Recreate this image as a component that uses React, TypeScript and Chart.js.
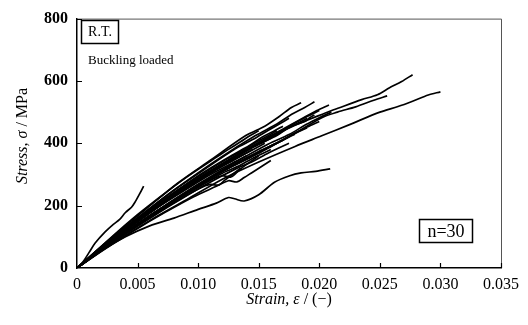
import React, { useEffect, useRef } from "react";
import { Chart, registerables } from "chart.js";

Chart.register(...registerables);

// ---- axis ticks ----
const xTicks = [0, 0.005, 0.01, 0.015, 0.02, 0.025, 0.03, 0.035];
const yTicks = [0, 200, 400, 600, 800];

// ---- curves: [strain, stress MPa] ----
const curveEarly = [[0, 0], [0.0005, 20], [0.001, 50], [0.0015, 80], [0.0023, 115], [0.003, 140], [0.0035, 155], [0.004, 178], [0.0045, 195], [0.0048, 212], [0.0052, 240], [0.0055, 263]];
const curveLow = [[0, 0], [0.002, 55], [0.004, 100], [0.006, 135], [0.008, 160], [0.01, 188], [0.0115, 208], [0.0125, 226], [0.013, 222], [0.0138, 215], [0.015, 235], [0.0163, 275], [0.0175, 295], [0.0185, 305], [0.0197, 310], [0.0209, 318]];
const curveLong1 = [[0, 0], [0.003, 92], [0.006, 180], [0.009, 262], [0.012, 335], [0.015, 400], [0.018, 458], [0.0205, 497], [0.0216, 513], [0.0235, 540], [0.0248, 556], [0.0258, 578], [0.0268, 598], [0.0277, 620]];
const curveLong2 = [[0, 0], [0.003, 85], [0.006, 165], [0.009, 240], [0.012, 310], [0.015, 370], [0.018, 432], [0.0202, 482], [0.0215, 500], [0.023, 517], [0.0245, 538], [0.0256, 552]];
const curveLong3 = [[0, 0], [0.003, 80], [0.006, 152], [0.009, 218], [0.012, 285], [0.015, 340], [0.018, 390], [0.0202, 424], [0.0225, 460], [0.025, 500], [0.0265, 518], [0.0277, 535], [0.029, 555], [0.03, 565]];
const c01 = [[0, 0], [0.0028, 96], [0.0056, 186], [0.0083, 272], [0.0111, 348], [0.0139, 424], [0.0155, 455], [0.0167, 486], [0.0177, 515], [0.0185, 530]];
const c02 = [[0, 0], [0.0029, 97], [0.0059, 188], [0.0088, 272], [0.0118, 353], [0.0147, 424], [0.0165, 462], [0.0176, 490], [0.0188, 515], [0.0196, 533]];
const c03 = [[0, 0], [0.0031, 95], [0.0062, 184], [0.0094, 267], [0.0125, 346], [0.0156, 416], [0.0172, 450], [0.0187, 482], [0.0198, 505], [0.0208, 523]];
const c04 = [[0, 0], [0.0032, 91], [0.0063, 176], [0.0095, 257], [0.0126, 329], [0.0158, 398], [0.0175, 428], [0.0189, 460], [0.02, 482], [0.021, 500]];
const c05 = [[0, 0], [0.0029, 89], [0.0059, 173], [0.0088, 252], [0.0118, 323], [0.0147, 392], [0.0165, 425], [0.0176, 453], [0.0188, 470], [0.0192, 482], [0.0196, 491]];
const c06 = [[0, 0], [0.003, 85], [0.006, 166], [0.009, 240], [0.012, 311], [0.015, 374], [0.0165, 400], [0.018, 433], [0.019, 452], [0.02, 470]];
const c07 = [[0, 0], [0.0029, 82], [0.0057, 159], [0.0086, 231], [0.0114, 296], [0.0143, 359], [0.0158, 385], [0.0171, 414], [0.018, 432], [0.019, 450]];
const c08 = [[0, 0], [0.0026, 87], [0.0053, 169], [0.0079, 247], [0.0105, 316], [0.0131, 383], [0.0145, 412], [0.0158, 442], [0.0167, 462], [0.0175, 480]];
const c09 = [[0, 0], [0.0026, 83], [0.0051, 160], [0.0077, 233], [0.0102, 301], [0.0128, 362], [0.0142, 392], [0.0153, 420], [0.0162, 438], [0.017, 455]];
const c10 = [[0, 0], [0.0025, 80], [0.005, 155], [0.0074, 226], [0.0099, 290], [0.0124, 350], [0.0136, 376], [0.0149, 406], [0.0165, 440]];
const c11 = [[0, 0], [0.0027, 78], [0.0054, 152], [0.0081, 220], [0.0108, 285], [0.0135, 342], [0.015, 368], [0.0162, 396], [0.0172, 414], [0.018, 430]];
const c12 = [[0, 0], [0.0024, 76], [0.0048, 148], [0.0072, 214], [0.0096, 278], [0.012, 334], [0.0132, 360], [0.0144, 387], [0.016, 420]];
const c13 = [[0, 0], [0.0023, 73], [0.0047, 141], [0.007, 205], [0.0093, 265], [0.0116, 318], [0.0128, 344], [0.014, 369], [0.0155, 400]];
const c14 = [[0, 0], [0.0023, 80], [0.0045, 155], [0.0068, 226], [0.009, 290], [0.0113, 350], [0.0124, 378], [0.0135, 405], [0.0143, 425], [0.015, 440]];
const c15 = [[0, 0], [0.0026, 75], [0.0051, 145], [0.0077, 210], [0.0102, 272], [0.0128, 326], [0.0142, 352], [0.0153, 378], [0.017, 410]];
const c16 = [[0, 0], [0.0022, 69], [0.0044, 134], [0.0065, 195], [0.0087, 251], [0.0109, 303], [0.0131, 350], [0.0145, 380]];
const c17 = [[0, 0], [0.0021, 65], [0.0042, 127], [0.0063, 185], [0.0084, 237], [0.0105, 288], [0.0126, 332], [0.014, 360]];
const c18 = [[0, 0], [0.0024, 69], [0.0048, 134], [0.0072, 195], [0.0096, 250], [0.012, 304], [0.0135, 330], [0.0144, 350], [0.016, 380]];
const c19 = [[0, 0], [0.002, 64], [0.0039, 123], [0.0059, 179], [0.0078, 232], [0.0098, 279], [0.0117, 323], [0.013, 350]];
const c20 = [[0, 0], [0.0023, 65], [0.0045, 127], [0.0068, 184], [0.009, 238], [0.0113, 287], [0.012, 296], [0.0127, 292], [0.0135, 318], [0.015, 360]];
const c21 = [[0, 0], [0.002, 58], [0.0041, 113], [0.0061, 164], [0.0081, 212], [0.0101, 255], [0.011, 268], [0.0117, 266], [0.0122, 282], [0.0135, 320]];
const c22 = [[0, 0], [0.0029, 87], [0.0057, 170], [0.0086, 246], [0.0114, 318], [0.0143, 382], [0.0157, 410], [0.0171, 442], [0.018, 460], [0.019, 480]];
const c23 = [[0, 0], [0.0026, 73], [0.0053, 141], [0.0079, 205], [0.0105, 265], [0.0131, 318], [0.0145, 342], [0.0158, 369], [0.0175, 400]];
const c24 = [[0, 0], [0.0024, 63], [0.0048, 122], [0.0072, 177], [0.0096, 228], [0.0115, 262], [0.0125, 280], [0.0132, 276], [0.0138, 290], [0.0144, 305], [0.016, 345]];
const c25 = [[0, 0], [0.003, 91], [0.006, 178], [0.009, 260], [0.012, 333], [0.015, 401], [0.0165, 432], [0.018, 465], [0.019, 486], [0.02, 505]];

const curves = [
  curveEarly, curveLow, curveLong1, curveLong2, curveLong3,
  c01, c02, c03, c04, c05, c06, c07, c08, c09, c10,
  c11, c12, c13, c14, c15, c16, c17, c18, c19, c20,
  c21, c22, c23, c24, c25,
];

// ---- texts ----
const xTitleParts = [
  { text: "Strain, ε", italic: true },
  { text: " / (−)", italic: false },
];
const yTitleParts = [
  { text: "Stress, σ", italic: true },
  { text: " / MPa", italic: false },
];
const labelRT = "R.T.";
const labelLoad = "Buckling loaded";
const labelN = "n=30";

const SERIF = "'Liberation Serif', 'DejaVu Serif', serif";

function drawParts(ctx: CanvasRenderingContext2D, parts: { text: string; italic: boolean }[], size: number) {
  const fonts = parts.map((p) => `${p.italic ? "italic " : ""}${size}px ${SERIF}`);
  let total = 0;
  const widths = parts.map((p, i) => {
    ctx.font = fonts[i];
    const w = ctx.measureText(p.text).width;
    total += w;
    return w;
  });
  let x = -total / 2;
  ctx.textBaseline = "middle";
  ctx.textAlign = "left";
  parts.forEach((p, i) => {
    ctx.font = fonts[i];
    ctx.fillText(p.text, x, 0);
    x += widths[i];
  });
}

const decorPlugin = {
  id: "decor",
  afterDraw(chart: any) {
    const ctx: CanvasRenderingContext2D = chart.ctx;
    const { left, right, top, bottom } = chart.chartArea;
    const xs = chart.scales.x;
    const ys = chart.scales.y;
    ctx.save();
    // frame top & right
    ctx.strokeStyle = "#555";
    ctx.lineWidth = 1;
    ctx.beginPath();
    ctx.moveTo(left, top + 0.5);
    ctx.lineTo(right + 0.5, top + 0.5);
    ctx.lineTo(right + 0.5, bottom);
    ctx.stroke();
    // inward ticks
    ctx.strokeStyle = "#000";
    ctx.lineWidth = 1.2;
    ctx.beginPath();
    xTicks.forEach((v) => {
      if (v === 0) return;
      const px = Math.round(xs.getPixelForValue(v)) + 0.5;
      ctx.moveTo(px, bottom);
      ctx.lineTo(px, bottom - 5);
    });
    yTicks.forEach((v) => {
      if (v === 0) return;
      const py = Math.round(ys.getPixelForValue(v)) + 0.5;
      ctx.moveTo(left, py);
      ctx.lineTo(left + 5, py);
    });
    ctx.stroke();

    ctx.fillStyle = "#000";
    // axis titles
    ctx.save();
    ctx.translate((left + right) / 2, 300);
    drawParts(ctx, xTitleParts, 16);
    ctx.restore();
    ctx.save();
    ctx.translate(23, 136);
    ctx.rotate(-Math.PI / 2);
    drawParts(ctx, yTitleParts, 16);
    ctx.restore();

    // R.T. box
    ctx.lineWidth = 1.5;
    ctx.strokeStyle = "#000";
    ctx.strokeRect(81.5, 20.5, 37, 23);
    ctx.font = `14px ${SERIF}`;
    ctx.textAlign = "center";
    ctx.textBaseline = "middle";
    ctx.fillText(labelRT, 100, 32.5);
    // Buckling loaded
    ctx.font = `13px ${SERIF}`;
    ctx.textAlign = "left";
    ctx.fillText(labelLoad, 88, 61);
    // n=30 box
    ctx.strokeRect(419.5, 219.5, 53, 23);
    ctx.font = `18px ${SERIF}`;
    ctx.textAlign = "center";
    ctx.fillText(labelN, 446, 232);
    ctx.restore();
  },
};

export default function App() {
  const ref = useRef<HTMLCanvasElement | null>(null);
  useEffect(() => {
    if (!ref.current) return;
    const chart = new Chart(ref.current, {
      type: "line",
      data: {
        datasets: curves.map((c) => ({
          data: c.map(([x, y]) => ({ x, y })),
          borderColor: "#000",
          borderWidth: 1.7,
          pointRadius: 0,
          fill: false,
          tension: 0.3,
        })),
      },
      options: {
        animation: false,
        responsive: false,
        devicePixelRatio: 1,
        layout: { padding: { left: 0, right: 27, top: 18, bottom: 0 } },
        plugins: { legend: { display: false }, tooltip: { enabled: false } },
        scales: {
          x: {
            type: "linear",
            min: 0,
            max: 0.035,
            afterFit: (s: any) => {
              s.height = 57;
            },
            afterBuildTicks: (s: any) => {
              s.ticks = xTicks.map((v) => ({ value: v }));
            },
            grid: { display: false, drawTicks: false },
            border: { display: true, color: "#000", width: 1.5 },
            ticks: {
              padding: 7,
              color: "#000",
              font: { family: SERIF, size: 16 },
              callback: (v: any) => (v === 0 ? "0" : Number(v).toFixed(3)),
            },
          },
          y: {
            type: "linear",
            min: 0,
            max: 800,
            afterFit: (s: any) => {
              s.width = 77;
            },
            afterBuildTicks: (s: any) => {
              s.ticks = yTicks.map((v) => ({ value: v }));
            },
            grid: { display: false, drawTicks: false },
            border: { display: true, color: "#000", width: 1.5 },
            ticks: {
              padding: 9,
              color: "#000",
              font: { family: SERIF, size: 16, weight: "bold" },
              callback: (v: any) => String(v),
            },
          },
        },
      },
      plugins: [decorPlugin],
    } as any);
    return () => chart.destroy();
  }, []);
  return (
    <div style={{ position: "fixed", left: 0, top: 0, width: 528, height: 325, background: "#fff" }}>
      <canvas ref={ref} width={528} height={325} style={{ display: "block" }} />
    </div>
  );
}
